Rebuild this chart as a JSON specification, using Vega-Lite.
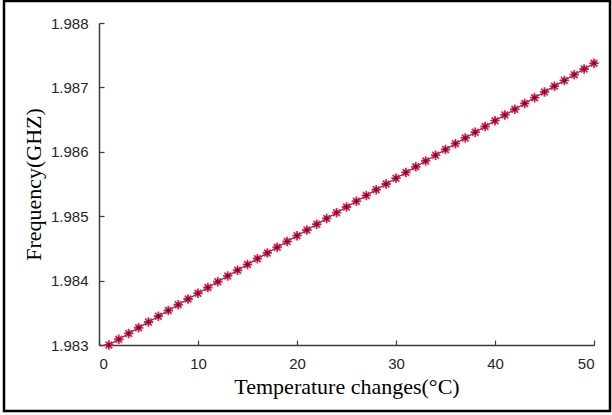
{
  "$schema": "https://vega.github.io/schema/vega-lite/v6.json",
  "width": 606,
  "height": 410,
  "autosize": {"type": "none"},
  "padding": {"left": 4, "top": 1, "right": 2, "bottom": 4},
  "background": "white",
  "config": {
    "view": {"stroke": "#000000", "strokeWidth": 2.5},
    "axis": {
      "grid": false,
      "domainColor": "#3a3a3a",
      "domainWidth": 1.5,
      "tickColor": "#3a3a3a",
      "tickWidth": 1.2,
      "tickSize": -5,
      "labelFont": "Liberation Sans",
      "labelFontSize": 15,
      "labelColor": "#262626",
      "titleFont": "Liberation Serif",
      "titleFontSize": 22,
      "titleFontWeight": "normal",
      "titleColor": "#000000"
    }
  },
  "data": {
    "values": [
      {"t": 1, "f": 1.983000}, {"t": 2, "f": 1.983089}, {"t": 3, "f": 1.983179}, {"t": 4, "f": 1.983268}, {"t": 5, "f": 1.983357},
      {"t": 6, "f": 1.983447}, {"t": 7, "f": 1.983536}, {"t": 8, "f": 1.983625}, {"t": 9, "f": 1.983714}, {"t": 10, "f": 1.983804},
      {"t": 11, "f": 1.983893}, {"t": 12, "f": 1.983982}, {"t": 13, "f": 1.984072}, {"t": 14, "f": 1.984161}, {"t": 15, "f": 1.984250},
      {"t": 16, "f": 1.984340}, {"t": 17, "f": 1.984429}, {"t": 18, "f": 1.984518}, {"t": 19, "f": 1.984607}, {"t": 20, "f": 1.984697},
      {"t": 21, "f": 1.984786}, {"t": 22, "f": 1.984875}, {"t": 23, "f": 1.984965}, {"t": 24, "f": 1.985054}, {"t": 25, "f": 1.985143},
      {"t": 26, "f": 1.985233}, {"t": 27, "f": 1.985322}, {"t": 28, "f": 1.985411}, {"t": 29, "f": 1.985500}, {"t": 30, "f": 1.985590},
      {"t": 31, "f": 1.985679}, {"t": 32, "f": 1.985768}, {"t": 33, "f": 1.985858}, {"t": 34, "f": 1.985947}, {"t": 35, "f": 1.986036},
      {"t": 36, "f": 1.986126}, {"t": 37, "f": 1.986215}, {"t": 38, "f": 1.986304}, {"t": 39, "f": 1.986393}, {"t": 40, "f": 1.986483},
      {"t": 41, "f": 1.986572}, {"t": 42, "f": 1.986661}, {"t": 43, "f": 1.986751}, {"t": 44, "f": 1.986840}, {"t": 45, "f": 1.986929},
      {"t": 46, "f": 1.987019}, {"t": 47, "f": 1.987108}, {"t": 48, "f": 1.987197}, {"t": 49, "f": 1.987286}, {"t": 50, "f": 1.987376}
    ]
  },
  "encoding": {
    "x": {
      "field": "t",
      "type": "quantitative",
      "scale": {"domain": [0, 50], "range": [95, 590], "nice": false, "zero": false},
      "axis": {
        "title": "Temperature changes(°C)",
        "values": [0, 10, 20, 30, 40, 50],
        "format": "d",
        "offset": -66,
        "labelPadding": 16,
        "titlePadding": 5
      }
    },
    "y": {
      "field": "f",
      "type": "quantitative",
      "scale": {"domain": [1.983, 1.988], "range": [344, 22], "nice": false, "zero": false},
      "axis": {
        "title": "Frequency(GHZ)",
        "values": [1.983, 1.984, 1.985, 1.986, 1.987, 1.988],
        "format": ".3f",
        "offset": -95,
        "labelPadding": 16,
        "titlePadding": 5
      }
    }
  },
  "layer": [
    {
      "mark": {"type": "line", "color": "#3b3b4a", "strokeWidth": 1.3}
    },
    {
      "mark": {
        "type": "point",
        "shape": "M-1,0L1,0M0,-1L0,1M-0.7,-0.7L0.7,0.7M-0.7,0.7L0.7,-0.7",
        "filled": false,
        "stroke": "#ee1c4e",
        "strokeWidth": 1.8,
        "size": 90,
        "opacity": 1
      }
    },
    {
      "mark": {
        "type": "point",
        "shape": "M-1,0L1,0M0,-1L0,1M-0.7,-0.7L0.7,0.7M-0.7,0.7L0.7,-0.7",
        "filled": false,
        "stroke": "#4a1028",
        "strokeWidth": 0.8,
        "size": 28,
        "opacity": 1
      }
    }
  ]
}
